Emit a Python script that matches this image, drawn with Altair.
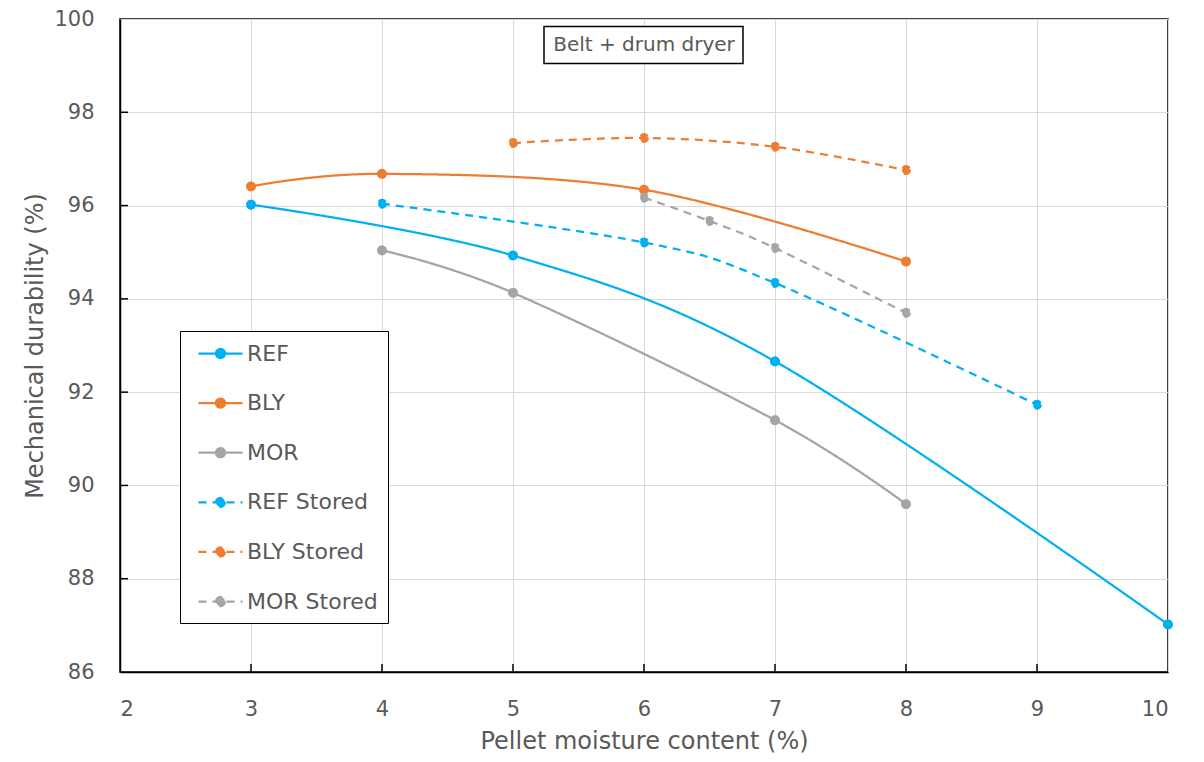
import altair as alt
import pandas as pd

series = ["REF", "BLY", "MOR", "REF Stored", "BLY Stored", "MOR Stored"]
colors = ["#00B0F0", "#ED7D31", "#A5A5A5", "#00B0F0", "#ED7D31", "#A5A5A5"]
dashes = [[1, 0], [1, 0], [1, 0], [8, 6], [8, 6], [8, 6]]

ref_x = [3, 5, 7, 10]
ref_y = [96.02, 94.93, 92.66, 87.02]
bly_x = [3, 4, 6, 8]
bly_y = [96.41, 96.68, 96.34, 94.80]
mor_x = [4, 5, 7, 8]
mor_y = [95.04, 94.13, 91.40, 89.60]
ref_s_x = [4, 6, 7, 9]
ref_s_y = [96.04, 95.21, 94.34, 91.73]
bly_s_x = [5, 6, 7, 8]
bly_s_y = [97.34, 97.45, 97.26, 96.76]
mor_s_x = [6, 6.5, 7, 8]
mor_s_y = [96.17, 95.67, 95.09, 93.70]

x_ticks = [2, 3, 4, 5, 6, 7, 8, 9, 10]
y_ticks = [86, 88, 90, 92, 94, 96, 98, 100]

annot_text = ["Belt + drum dryer"]
annot_x = [6]
annot_y = [99.44]

FONT = "DejaVu Sans"
TXT = "#595959"

xs = [ref_x, bly_x, mor_x, ref_s_x, bly_s_x, mor_s_x]
ys = [ref_y, bly_y, mor_y, ref_s_y, bly_s_y, mor_s_y]
rows = []
for name, xv, yv in zip(series, xs, ys):
    for a, b in zip(xv, yv):
        rows.append({"series": name, "moisture": a, "durability": b})
df = pd.DataFrame(rows)

W, H = 1048, 653

X = alt.X("moisture:Q",
          scale=alt.Scale(domain=[2, 10], nice=False, zero=False),
          axis=alt.Axis(values=x_ticks, title="Pellet moisture content (%)",
                        labelPadding=26, titlePadding=10, format="d"))
Y = alt.Y("durability:Q",
          scale=alt.Scale(domain=[86, 100], nice=False, zero=False),
          axis=alt.Axis(values=y_ticks, title="Mechanical durability (%)",
                        labelPadding=26, titlePadding=6, format="d"))

col_scale = alt.Scale(domain=series, range=colors)
dash_scale = alt.Scale(domain=series, range=dashes)

sym_path = ("M-2,0L2,0M0.41,0A0.41,0.41,0,1,1,-0.41,0"
            "A0.41,0.41,0,1,1,0.41,0Z")
leg = alt.Legend(orient="none", legendX=60, legendY=312, title=None,
                 symbolType=sym_path, symbolSize=484, symbolOffset=18,
                 symbolStrokeWidth=2.25,
                 labelOffset=14, padding=10, rowPadding=25.6,
                 fillColor="white", strokeColor="black",
                 labelFont=FONT, labelFontSize=22, labelColor=TXT,
                 labelLimit=400, labelExpr="datum.label + '\u00a0'")

lines = alt.Chart(df).mark_line(interpolate="cardinal", strokeWidth=2.25).encode(
    x=X, y=Y,
    color=alt.Color("series:N", scale=col_scale, legend=leg, sort=series),
    strokeDash=alt.StrokeDash("series:N", scale=dash_scale, legend=leg, sort=series),
)

points = alt.Chart(df).mark_point(filled=True, size=60, opacity=1, strokeWidth=2.25).encode(
    x=X, y=Y,
    fill=alt.Fill("series:N", scale=col_scale, legend=leg, sort=series),
    stroke=alt.Stroke("series:N", scale=col_scale, legend=leg, sort=series),
    strokeDash=alt.StrokeDash("series:N", scale=dash_scale, legend=leg, sort=series),
)

xtick_df = pd.DataFrame({"moisture": x_ticks[1:-1]})
xticks = alt.Chart(xtick_df).mark_rule(color="black", strokeWidth=1.5).encode(
    x=X, y=alt.value(H - 8), y2=alt.value(H))
ytick_df = pd.DataFrame({"durability": y_ticks[1:-1]})
yticks = alt.Chart(ytick_df).mark_rule(color="black", strokeWidth=1.5).encode(
    y=Y, x=alt.value(0), x2=alt.value(8))

annot_df = pd.DataFrame({"moisture": annot_x, "durability": annot_y, "label": annot_text})
box = alt.Chart(annot_df).mark_rect(fill="white", stroke="black", strokeWidth=1.5).encode(
    x=alt.value(424), x2=alt.value(623), y=alt.value(7.5), y2=alt.value(44.5))
btxt = alt.Chart(annot_df).mark_text(font=FONT, fontSize=20, color=TXT,
                                     align="center", baseline="middle").encode(
    x=X, y=Y, text="label:N")

chart = alt.layer(lines, points, xticks, yticks, box, btxt).properties(
    width=W, height=H,
    autosize=alt.AutoSizeParams(type="none"),
    padding={"left": 112, "top": 11, "right": 28, "bottom": 82},
).configure_view(
    stroke="black", strokeWidth=1.5
).configure_axis(
    grid=True, gridColor="#D9D9D9", gridWidth=1,
    domainColor="black", domainWidth=1.5,
    ticks=False, tickSize=0,
    labelFont=FONT, labelFontSize=21, labelColor=TXT,
    titleFont=FONT, titleFontSize=24, titleColor=TXT, titleFontWeight="normal",
)

chart.save("out.html", embed_options={"renderer": "svg", "actions": False})
